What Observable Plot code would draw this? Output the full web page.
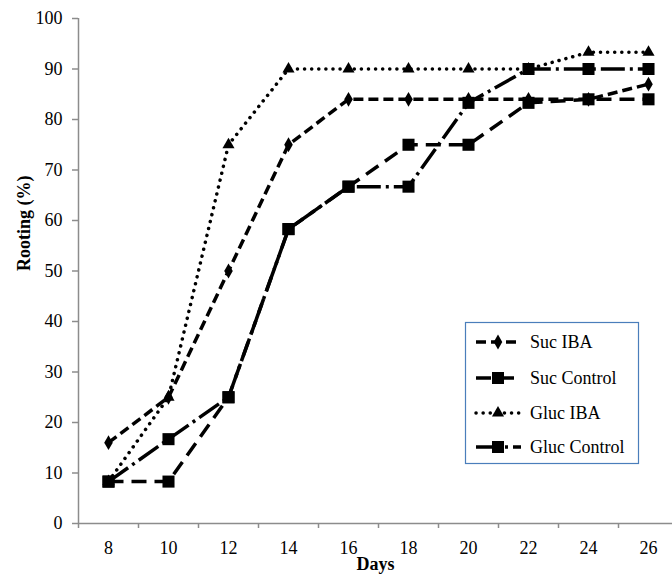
<!DOCTYPE html>
<html><head><meta charset="utf-8">
<script src="https://cdn.jsdelivr.net/npm/d3@7"></script>
<script src="https://cdn.jsdelivr.net/npm/@observablehq/plot@0.6"></script>
<style>body{margin:0;background:#fff} #chart{position:relative;width:672px;height:578px;overflow:hidden}</style>
</head><body><div id="chart"></div>
<script>
const days = [8, 10, 12, 14, 16, 18, 20, 22, 24, 26];
const sucIBA = [16, 25, 50, 75, 84, 84, 84, 84, 84, 87];
const sucControl = [8.3, 8.3, 25, 58.3, 66.7, 75, 75, 83.3, 84, 84];
const glucIBA = [8.3, 25, 75, 90, 90, 90, 90, 90, 93.3, 93.3];
const glucControl = [8.3, 16.7, 25, 58.3, 66.7, 66.7, 83.3, 90, 90, 90];
const seriesNames = ["Suc IBA", "Suc Control", "Gluc IBA", "Gluc Control"];
const yTicks = [0, 10, 20, 30, 40, 50, 60, 70, 80, 90, 100];
const xBoundaries = [7, 9, 11, 13, 15, 17, 19, 21, 23, 25, 27];

const seriesValues = [sucIBA, sucControl, glucIBA, glucControl];
const styles = {
  "Suc IBA": {dash: "10,5", cap: "butt", width: 3.5, symbol: "diamond", r: 4.5, d3sym: d3.symbolDiamond},
  "Suc Control": {dash: "15,8", cap: "butt", width: 3.5, symbol: "square", r: 6.8, d3sym: d3.symbolSquare},
  "Gluc IBA": {dash: "0.1,7", cap: "round", width: 3.5, symbol: "triangle", r: 4.5, d3sym: d3.symbolTriangle},
  "Gluc Control": {dash: "24,5,3,5", cap: "butt", width: 3.5, symbol: "square", r: 6.8, d3sym: d3.symbolSquare}
};
const data = seriesNames.flatMap((name, k) => days.map((d, i) => ({day: d, value: seriesValues[k][i], series: name})));

const font = "'Liberation Serif', 'Times New Roman', serif";
const marks = [
  Plot.ruleY([0], {stroke: "#8c8c8c", strokeWidth: 1.5}),
  Plot.ruleX([7], {stroke: "#8c8c8c", strokeWidth: 1.5}),
  Plot.axisY({ticks: yTicks, tickSize: 6, stroke: "#8c8c8c", strokeWidth: 1.5, tickFormat: () => "", label: null}),
  Plot.axisY({ticks: yTicks, tickSize: 0, tickPadding: 16, fill: "#000", fontSize: 18, label: null}),
  Plot.axisX({ticks: xBoundaries, tickSize: 5, stroke: "#8c8c8c", strokeWidth: 1.5, tickFormat: () => "", label: null}),
  Plot.axisX({ticks: days, tickSize: 0, tickPadding: 18, fill: "#000", fontSize: 18, label: null})
];
for (const name of seriesNames) {
  const s = styles[name];
  const sub = data.filter(d => d.series === name);
  marks.push(Plot.line(sub, {x: "day", y: "value", stroke: "#000", strokeWidth: s.width, strokeDasharray: s.dash, strokeLinecap: s.cap}));
  marks.push(Plot.dot(sub, {x: "day", y: "value", symbol: () => s.symbol, r: s.r, fill: "#000", stroke: "none"}));
}
marks.push(Plot.text(["Rooting (%)"], {frameAnchor: "left", dx: -54, rotate: -90, fontWeight: "bold", fontSize: 18, fill: "#000"}));
marks.push(Plot.text(["Days"], {frameAnchor: "bottom", dy: 46, fontWeight: "bold", fontSize: 18, fill: "#000"}));

const chart = Plot.plot({
  width: 672, height: 578,
  marginLeft: 78, marginRight: 0, marginTop: 18, marginBottom: 55,
  style: {fontFamily: font, fontSize: "18px", background: "#fff", overflow: "visible"},
  x: {type: "linear", domain: [7, 27], range: [78, 678]},
  y: {domain: [0, 100]},
  symbol: {type: "identity"},
  marks
});
document.getElementById("chart").appendChild(chart);

// legend
const svg = d3.select(chart);
const lg = svg.append("g").style("font-family", font).style("text-anchor", "start");
lg.append("rect").attr("x", 465.5).attr("y", 322.5).attr("width", 173).attr("height", 141)
  .attr("fill", "#fff").attr("stroke", "#4a7ebb").attr("stroke-width", 1.2);
const rowsY = [342, 378, 413, 447];
seriesNames.forEach((name, i) => {
  const s = styles[name];
  const y = rowsY[i];
  lg.append("line").attr("x1", 476).attr("x2", 521).attr("y1", y).attr("y2", y)
    .attr("stroke", "#000").attr("stroke-width", s.width).attr("stroke-dasharray", s.dash).attr("stroke-linecap", s.cap);
  lg.append("path").attr("transform", `translate(498,${y})`)
    .attr("d", d3.symbol(s.d3sym, Math.PI * s.r * s.r)())
    .attr("fill", "#000");
  lg.append("text").attr("x", 530).attr("y", y).attr("dy", "0.35em")
    .style("font-family", font).style("font-size", "18px").style("text-anchor", "start")
    .attr("fill", "#000").text(name);
});
</script>
</body></html>
